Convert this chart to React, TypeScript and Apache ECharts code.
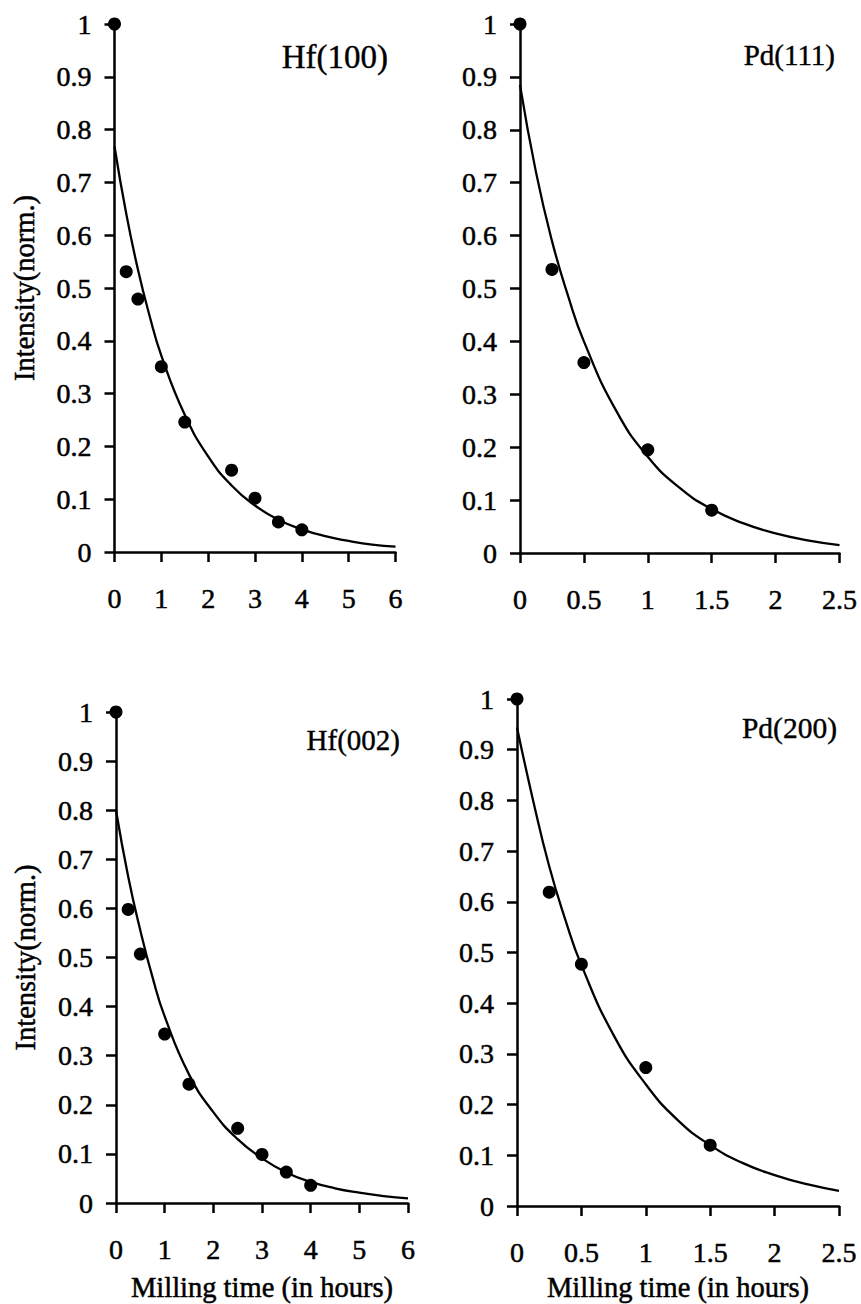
import React, { useEffect, useRef } from "react";
import * as echarts from "echarts";

// ---- Hf(100) ----
const hf100Time = [0, 0.25, 0.5, 1, 1.5, 2.5, 3, 3.5, 4];
const hf100Intensity = [1, 0.531, 0.479, 0.351, 0.246, 0.155, 0.102, 0.057, 0.042];
const hf100FitTime = [0, 0.25, 0.5, 0.75, 1, 1.5, 2, 2.5, 3, 3.5, 4, 4.5, 5, 5.5, 6];
const hf100Fit = [0.768, 0.641, 0.535, 0.447, 0.372, 0.26, 0.181, 0.126, 0.088, 0.061, 0.043, 0.03, 0.021, 0.014, 0.01];

// ---- Pd(111) ----
const pd111Time = [0, 0.25, 0.5, 1, 1.5];
const pd111Intensity = [1, 0.536, 0.36, 0.195, 0.081];
const pd111FitTime = [0, 0.125, 0.25, 0.375, 0.5, 0.75, 1, 1.25, 1.5, 1.75, 2, 2.25, 2.5];
const pd111Fit = [0.885, 0.72, 0.59, 0.487, 0.4, 0.27, 0.182, 0.123, 0.083, 0.056, 0.037, 0.024, 0.015];

// ---- Hf(002) ----
const hf002Time = [0, 0.25, 0.5, 1, 1.5, 2.5, 3, 3.5, 4];
const hf002Intensity = [1, 0.598, 0.507, 0.344, 0.242, 0.152, 0.099, 0.063, 0.036];
const hf002FitTime = [0, 0.25, 0.5, 0.75, 1, 1.5, 2, 2.5, 3, 3.5, 4, 4.5, 5, 5.5, 6];
const hf002Fit = [0.8, 0.665, 0.555, 0.46, 0.38, 0.262, 0.185, 0.13, 0.091, 0.062, 0.043, 0.03, 0.021, 0.014, 0.0095];

// ---- Pd(200) ----
const pd200Time = [0, 0.25, 0.5, 1, 1.5];
const pd200Intensity = [1, 0.619, 0.477, 0.273, 0.12];
const pd200FitTime = [0, 0.125, 0.25, 0.375, 0.5, 0.75, 1, 1.25, 1.5, 1.75, 2, 2.25, 2.5];
const pd200Fit = [0.944, 0.8, 0.67, 0.565, 0.475, 0.337, 0.24, 0.169, 0.12, 0.085, 0.061, 0.043, 0.03];

const panelLabels = ["Hf(100)", "Pd(111)", "Hf(002)", "Pd(200)"];
const yAxisName = "Intensity(norm.)";
const xAxisName = "Milling time (in hours)";

const FONT = "Liberation Serif, Times New Roman, serif";

const zip = (xs: number[], ys: number[]) => xs.map((x, i) => [x, ys[i]]);

export default function App() {
  const ref = useRef<HTMLDivElement>(null);

  useEffect(() => {
    if (!ref.current) return;
    const chart = echarts.init(ref.current, undefined, { renderer: "svg" });

    const grids = [
      { left: 114.5, top: 24, width: 281, height: 528 },
      { left: 520, top: 24, width: 319.5, height: 529 },
      { left: 116, top: 712, width: 292, height: 491 },
      { left: 517, top: 699, width: 322, height: 507 },
    ];

    const axisLine = { lineStyle: { color: "#000", width: 2.5 } };
    const axisTick = { length: 10, lineStyle: { color: "#000", width: 2.5 } };
    const textCommon = {
      color: "#000",
      fontFamily: FONT,
      textBorderColor: "#000",
      textBorderWidth: 0.5,
    };

    const xMax = [6, 2.5, 6, 2.5];
    const xInt = [1, 0.5, 1, 0.5];
    const xNameGap = [0, 0, 70, 67];

    const xAxes = grids.map((_, i) => ({
      type: "value",
      gridIndex: i,
      min: 0,
      max: xMax[i],
      interval: xInt[i],
      splitLine: { show: false },
      axisLine,
      axisTick,
      axisLabel: { ...textCommon, fontSize: 28, margin: 32 },
      name: i >= 2 ? xAxisName : "",
      nameLocation: "middle",
      nameGap: xNameGap[i],
      nameTextStyle: { ...textCommon, fontSize: 28.5 },
    }));

    const yAxes = grids.map((_, i) => ({
      type: "value",
      gridIndex: i,
      min: 0,
      max: 1,
      interval: 0.1,
      splitLine: { show: false },
      axisLine,
      axisTick,
      axisLabel: { ...textCommon, fontSize: 28, margin: 23 },
      name: i % 2 === 0 ? yAxisName : "",
      nameLocation: "middle",
      nameGap: 76,
      nameTextStyle: { ...textCommon, fontSize: 28.5 },
    }));

    const pts = [
      zip(hf100Time, hf100Intensity),
      zip(pd111Time, pd111Intensity),
      zip(hf002Time, hf002Intensity),
      zip(pd200Time, pd200Intensity),
    ];
    const fits = [
      zip(hf100FitTime, hf100Fit),
      zip(pd111FitTime, pd111Fit),
      zip(hf002FitTime, hf002Fit),
      zip(pd200FitTime, pd200Fit),
    ];

    const series: any[] = [];
    for (let i = 0; i < 4; i++) {
      series.push({
        type: "line",
        xAxisIndex: i,
        yAxisIndex: i,
        data: fits[i],
        smooth: true,
        showSymbol: false,
        symbol: "none",
        clip: false,
        lineStyle: { color: "#000", width: 2.3 },
        z: 2,
      });
      series.push({
        type: "scatter",
        xAxisIndex: i,
        yAxisIndex: i,
        data: pts[i],
        symbol: "circle",
        symbolSize: 13,
        clip: false,
        itemStyle: { color: "#000", opacity: 1 },
        z: 3,
      });
    }

    const labelPos = [
      { x: 388, y: 57, size: 33 },
      { x: 835, y: 55, size: 29 },
      { x: 400, y: 740, size: 29 },
      { x: 837, y: 728, size: 29.5 },
    ];

    chart.setOption({
      animation: false,
      backgroundColor: "#fff",
      grid: grids.map((g) => ({ ...g, containLabel: false })),
      xAxis: xAxes,
      yAxis: yAxes,
      series,
      graphic: labelPos.map((p, i) => ({
        type: "text",
        x: p.x,
        y: p.y,
        style: {
          text: panelLabels[i],
          fill: "#000",
          stroke: "#000",
          lineWidth: 0.4,
          fontFamily: FONT,
          fontSize: p.size,
          textAlign: "right",
          textVerticalAlign: "middle",
        },
      })),
    });

    return () => chart.dispose();
  }, []);

  return (
    <div
      ref={ref}
      style={{ position: "absolute", left: 0, top: 0, width: 861, height: 1304 }}
    />
  );
}
